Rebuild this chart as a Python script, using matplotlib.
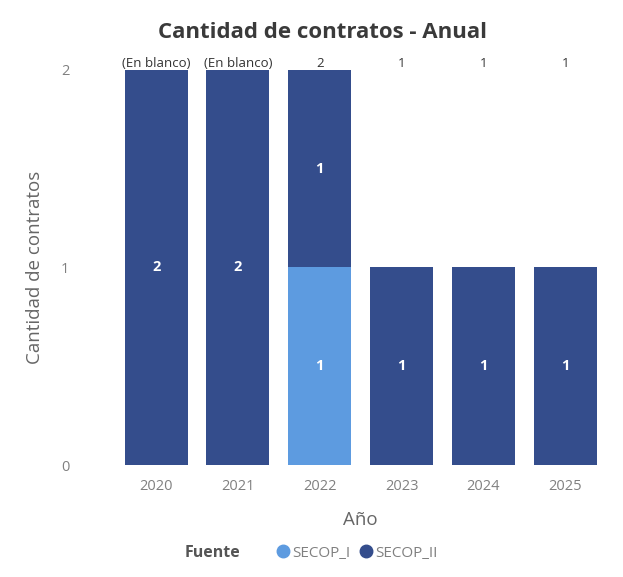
import numpy as np
import matplotlib.pyplot as plt
from matplotlib.lines import Line2D

plt.rcParams['font.family'] = ['Open Sans', 'DejaVu Sans']

# data
years = ['2020', '2021', '2022', '2023', '2024', '2025']
secop_i = [0, 0, 1, 0, 0, 0]
secop_ii = [2, 2, 1, 1, 1, 1]
top_labels = ['(En blanco)', '(En blanco)', '2', '1', '1', '1']

c_i = '#5d9be0'
c_ii = '#344d8c'

fig = plt.figure(figsize=(6.23, 5.77), dpi=100, facecolor='white')
ax = fig.add_axes([0.185, 0.194, 0.788, 0.685])

x = np.arange(len(years))
w = 0.77
ax.bar(x, secop_i, w, color=c_i)
ax.bar(x, secop_ii, w, bottom=secop_i, color=c_ii)

# labels inside segments
for xi, v in zip(x, secop_i):
    if v:
        ax.text(xi, v / 2, str(v), ha='center', va='center', color='white', fontsize=10.5, fontweight='bold')
for xi, v, b in zip(x, secop_ii, secop_i):
    if v:
        ax.text(xi, b + v / 2, str(v), ha='center', va='center', color='white', fontsize=10.5, fontweight='bold')

# total labels along the top edge
ymax = 2
for xi, lab in zip(x, top_labels):
    ax.annotate(lab, (xi, ymax), xytext=(0, 0), textcoords='offset points',
                ha='center', va='bottom', fontsize=9.5, color='#333333')

ax.set_xlim(-0.5, len(years) - 0.5)
ax.set_ylim(0, ymax)
ax.set_yticks([0, 1, 2])
ax.set_xticks(x)
ax.set_xticklabels(years)
ax.tick_params(length=0, labelsize=10.5, colors='#808080', pad=10)
ax.tick_params(axis='y', pad=33)
for s in ax.spines.values():
    s.set_visible(False)

ax.set_xlabel('Año', fontsize=13.5, color='#666666', labelpad=12)
ax.set_ylabel('Cantidad de contratos', fontsize=13.5, color='#666666', labelpad=12)

fig.text(0.518, 0.943, 'Cantidad de contratos - Anual', ha='center', va='center',
         fontsize=16, fontweight='bold', color='#3a3a3a')

# legend
fig.text(0.297, 0.041, 'Fuente', ha='left', va='center', fontsize=11.5,
         fontweight='bold', color='#555555')
handles = [Line2D([], [], marker='o', ls='', color=c_i, markersize=9),
           Line2D([], [], marker='o', ls='', color=c_ii, markersize=9)]
leg = fig.legend(handles, ['SECOP_I', 'SECOP_II'], loc='center left',
                 bbox_to_anchor=(0.418, 0.041), ncol=2, frameon=False,
                 handletextpad=0.0, columnspacing=0.4, handlelength=1.2,
                 fontsize=11)
for t in leg.get_texts():
    t.set_color('#808080')

fig.savefig('out.png', dpi=100)
